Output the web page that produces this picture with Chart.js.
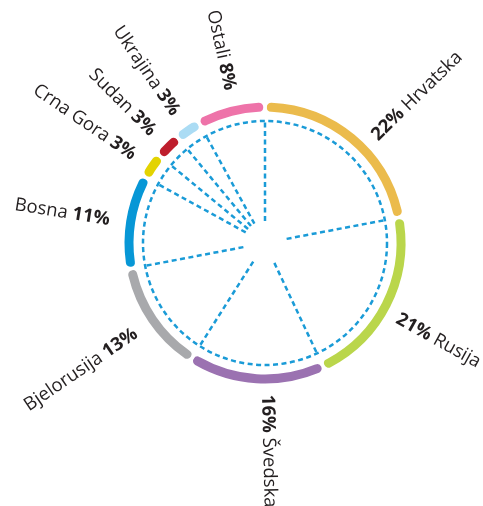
<!DOCTYPE html>
<html>
<head>
<meta charset="utf-8">
<script src="https://cdn.jsdelivr.net/npm/chart.js@4/dist/chart.umd.min.js"></script>
<style>
  html, body { margin: 0; padding: 0; background: #fff; }
  #wrap { width: 483px; height: 506px; }
</style>
</head>
<body>
<div id="wrap"><canvas id="ringChart"></canvas></div>
<script>
// shares by country (%)
const countries = ["Hrvatska", "Rusija", "Švedska", "Bjelorusija", "Bosna", "Crna Gora", "Sudan", "Ukrajina", "Ostali"];
const shares = [22, 21, 16, 13, 11, 3, 3, 3, 8];
const sliceColors = ["#ebbb4c", "#bad64b", "#9b72b1", "#a8a9ac", "#0797d6", "#e3d301", "#be1e2d", "#abdcf4", "#ee73a9"];
// the original labels are hand placed a few degrees off the slice middle
const labelNudge = [6, 2, -5, 0, 0, 0, 0, 0, 2];

const guideBlue = "#1a9bd7";
const textColor = "#231f20";
const fontSize = 18.5;

const guides = {
  id: "guides",
  beforeDatasetsDraw(chart) {
    const arcs = chart.getDatasetMeta(0).data;
    const ctx = chart.ctx;
    const cx = arcs[0].x, cy = arcs[0].y;
    const mid = (arcs[0].innerRadius + arcs[0].outerRadius) / 2;
    const rOut = mid - 14;
    const rIn = 22;

    ctx.save();
    ctx.strokeStyle = guideBlue;
    ctx.lineWidth = 2.5;
    ctx.setLineDash([5, 3.5]);
    ctx.beginPath();
    ctx.arc(cx, cy, rOut, 0, Math.PI * 2);
    ctx.stroke();

    arcs.forEach(a => {
      const ang = a.startAngle;
      ctx.beginPath();
      ctx.moveTo(cx + rIn * Math.cos(ang), cy + rIn * Math.sin(ang));
      ctx.lineTo(cx + rOut * Math.cos(ang), cy + rOut * Math.sin(ang));
      ctx.stroke();
    });
    ctx.restore();
  },
  afterDatasetsDraw(chart) {
    const arcs = chart.getDatasetMeta(0).data;
    const ctx = chart.ctx;
    const boldFont = "bold " + fontSize + "px 'Open Sans'";
    const normFont = fontSize + "px 'Open Sans'";

    ctx.save();
    ctx.fillStyle = textColor;
    ctx.textBaseline = "alphabetic";

    arcs.forEach((a, i) => {
      const ang = (a.startAngle + a.endAngle) / 2 + labelNudge[i] * Math.PI / 180;
      const compass = ((ang * 180 / Math.PI) + 90 + 360) % 360;
      const outward = compass < 195;
      const r0 = outward ? 152 : 157;
      const pct = shares[i] + "%";
      const shift = fontSize * 0.36;

      ctx.save();
      ctx.translate(a.x + r0 * Math.cos(ang), a.y + r0 * Math.sin(ang));
      if (outward) {
        ctx.rotate(ang);
        ctx.textAlign = "left";
        ctx.font = boldFont;
        ctx.fillText(pct, 0, shift);
        const w = ctx.measureText(pct).width;
        ctx.font = normFont;
        ctx.fillText(" " + countries[i], w, shift);
      } else {
        ctx.rotate(ang + Math.PI);
        ctx.textAlign = "right";
        ctx.font = boldFont;
        ctx.fillText(pct, 0, shift);
        const w = ctx.measureText(pct).width;
        ctx.font = normFont;
        ctx.fillText(countries[i] + " ", -w, shift);
      }
      ctx.restore();
    });
    ctx.restore();
  }
};

const ctx = document.getElementById("ringChart");

new Chart(ctx, {
  type: "doughnut",
  data: {
    labels: countries,
    datasets: [{
      data: shares,
      backgroundColor: sliceColors,
      borderColor: "#ffffff",
      borderWidth: 3.5,
      borderRadius: 7,
      hoverOffset: 0,
      hoverBorderWidth: 3.5
    }]
  },
  options: {
    responsive: true,
    maintainAspectRatio: false,
    animation: false,
    cutout: (129.75 / 142.25 * 100) + "%",
    layout: { padding: { left: 121, right: 74, top: 99, bottom: 119 } },
    plugins: {
      legend: { display: false },
      tooltip: { enabled: false }
    }
  },
  plugins: [guides]
});
</script>
</body>
</html>
